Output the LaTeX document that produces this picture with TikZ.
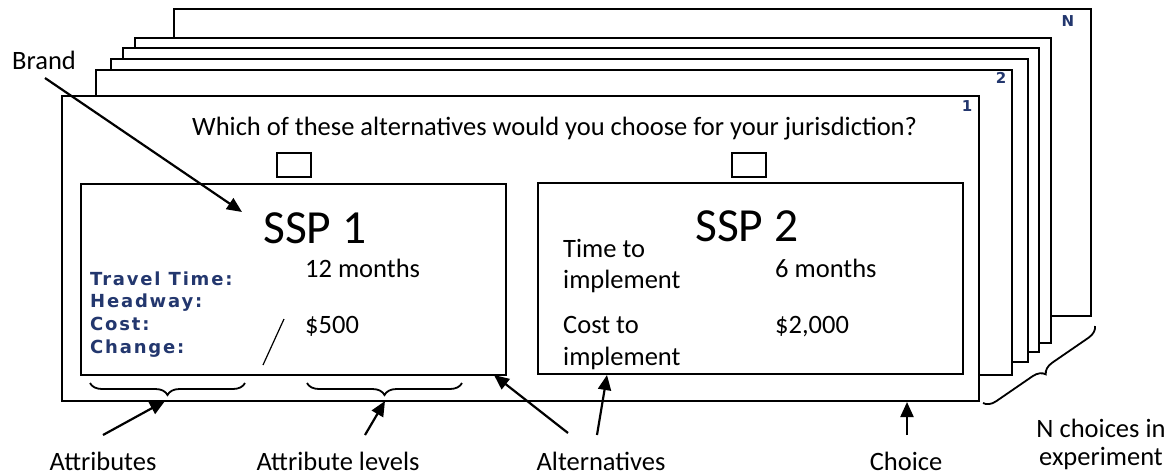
\documentclass[tikz,border=0pt]{standalone}
\usepackage{fontspec}
\setmainfont{Carlito}
\newfontfamily\attrfont[LetterSpace=10]{DejaVu Sans}
\usetikzlibrary{arrows.meta,decorations.pathreplacing}
\definecolor{attrblue}{RGB}{35,55,110}
\begin{document}
\begin{tikzpicture}[x=1pt,y=-1pt,
  card/.style={draw, fill=white, line width=2.4pt, anchor=north west, inner sep=0pt},
  cbox/.style={draw, line width=2.4pt, anchor=north west, inner sep=0pt, minimum width=34pt, minimum height=24pt},
  lbl/.style={font=\fontsize{26.5}{30}\selectfont, inner sep=0pt},
  txt/.style={font=\fontsize{26.5}{30}\selectfont, inner sep=0pt, anchor=base west},
  attr/.style={font=\attrfont\bfseries\fontsize{18}{20}\selectfont, text=attrblue, inner sep=0pt, anchor=base west},
  num/.style={font=\attrfont\bfseries\fontsize{15}{17}\selectfont, text=attrblue, inner sep=0pt},
  arr/.style={-{Triangle[length=15pt,width=13pt]}, line width=2.2pt},
  brc/.style={decorate, decoration={brace, amplitude=12pt, mirror}, line width=1.8pt}]
\useasboundingbox (0,0) rectangle (1170,475);
% stacked cards, back to front
\node[card, minimum width=917pt, minimum height=307pt] (cardN) at (173,8) {};
\node[card, minimum width=916pt, minimum height=305pt] (card5) at (134,37) {};
\node[card, minimum width=916pt, minimum height=304pt] (card4) at (122,47) {};
\node[card, minimum width=917pt, minimum height=303pt] (card3) at (110,58) {};
\node[card, minimum width=916pt, minimum height=305pt] (card2) at (95,69) {};
\node[card, minimum width=917pt, minimum height=305pt] (card1) at (61,95) {};
\node[num] (numN) at (1068,21) {N};
\node[num] (num2) at (1001,78) {2};
\node[num] (num1) at (967,106) {1};
% question
\node[txt] (question) at (192,135) {Which of these alternatives would you choose for your jurisdiction?};
\node[cbox] (cb1) at (276,152) {};
\node[cbox] (cb2) at (731,152) {};
% alternatives
\node[card, minimum width=425pt, minimum height=191pt] (alt1) at (80,183) {};
\node[card, minimum width=425pt, minimum height=191pt] (alt2) at (537,182) {};
\node[txt, font=\fontsize{47.5}{52}\selectfont] (ssp1) at (263,243) {SSP 1};
\node[txt, font=\fontsize{47.5}{52}\selectfont] (ssp2) at (695,241) {SSP 2};
\node[attr] (tt) at (90,285) {Travel Time:};
\node[attr] (hw) at (90,307) {Headway:};
\node[attr] (cs) at (90,330) {Cost:};
\node[attr] (ch) at (90,353) {Change:};
\node[txt] (v12) at (305,277) {12 months};
\node[txt] (v500) at (305,333) {\$500};
\node[txt] (tti) at (563,257) {Time to};
\node[txt] (tti2) at (563,288) {implement};
\node[txt] (cti) at (563,333) {Cost to};
\node[txt] (cti2) at (563,365) {implement};
\node[txt] (v6) at (775,277) {6 months};
\node[txt] (v2000) at (775,333) {\$2,000};
\coordinate (sl1) at (284,319);
\coordinate (sl2) at (263,365);
\draw[line width=1.2pt] (sl1) -- (sl2);
% braces
\coordinate (b1l) at (90,383);
\coordinate (b1r) at (245,383);
\coordinate (b1t) at (165,401);
\coordinate (b2l) at (307,383);
\coordinate (b2r) at (462,383);
\coordinate (b2t) at (385,401);
\draw[brc] (b1l) -- (b1r);
\draw[brc] (b2l) -- (b2r);
\coordinate (bNl) at (983,403);
\coordinate (bNr) at (1095,326);
\draw[brc] (bNl) -- (bNr);
% labels
\node[lbl, anchor=base west] (brand) at (12,69) {Brand};
\node[lbl, anchor=base] (lattr) at (103,470) {Attributes};
\node[lbl, anchor=base] (llev) at (338,470) {Attribute levels};
\node[lbl, anchor=base] (lalt) at (601,470) {Alternatives};
\node[lbl, anchor=base] (lch) at (906,470) {Choice};
\node[lbl, anchor=base] (lN) at (1101,437) {N choices in};
\node[lbl, anchor=base] (lN2) at (1101,465) {experiment};
% arrows
\coordinate (brs) at (45,78);
\coordinate (brt) at (242,212);
\draw[arr] (brs) -- (brt);
\coordinate (a1s) at (103,435);
\draw[arr] (a1s) -- (b1t);
\coordinate (a2s) at (365,435);
\draw[arr] (a2s) -- (b2t);
\coordinate (a3s) at (568,433);
\coordinate (a3t) at (494,375);
\draw[arr] (a3s) -- (a3t);
\coordinate (a4s) at (597,435);
\coordinate (a4t) at (607,375);
\draw[arr] (a4s) -- (a4t);
\coordinate (a5s) at (907,435);
\coordinate (a5t) at (907,402);
\draw[arr] (a5s) -- (a5t);
\end{tikzpicture}
\end{document}
